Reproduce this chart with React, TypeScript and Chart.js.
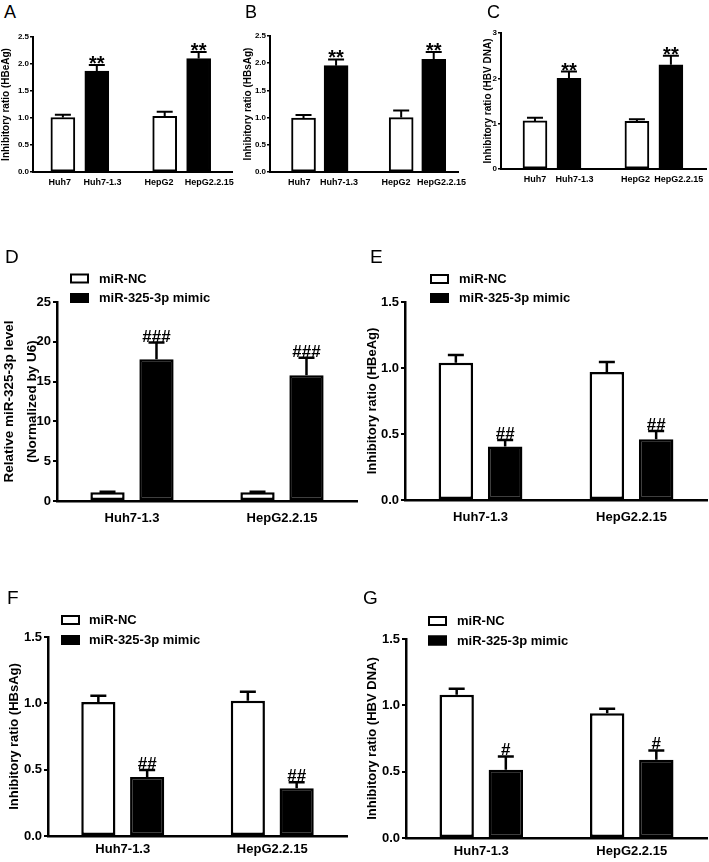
import React, { useEffect, useRef } from 'react';
import { Chart, registerables } from 'chart.js';

Chart.register(...registerables);

const FONT = "'Liberation Sans', Arial, Helvetica, sans-serif";

// ---------- Panels A–C data ----------
const cellLines = ['Huh7', 'Huh7-1.3', 'HepG2', 'HepG2.2.15'];
const hbeagRatio = [1.01, 1.87, 1.03, 2.1];
const hbeagRatioErr = [0.05, 0.11, 0.085, 0.12];
const hbsagRatio = [0.99, 1.955, 1.0, 2.07];
const hbsagRatioErr = [0.06, 0.115, 0.13, 0.135];
const hbvDnaRatio = [1.06, 2.0, 1.05, 2.3];
const hbvDnaRatioErr = [0.07, 0.15, 0.05, 0.2];
const cellLineMarks = ['', '**', '', '**'];

// ---------- Panels D–G data ----------
const hbvLines = ['Huh7-1.3', 'HepG2.2.15'];
const seriesNames = ['miR-NC', 'miR-325-3p mimic'];

const mirLevelNC = [1.1, 1.1];
const mirLevelNCErr = [0.06, 0.06];
const mirLevelMimic = [17.8, 15.8];
const mirLevelMimicErr = [2.1, 2.2];

const hbeagNC = [1.04, 0.97];
const hbeagNCErr = [0.058, 0.075];
const hbeagMimic = [0.405, 0.46];
const hbeagMimicErr = [0.05, 0.063];

const hbsagNC = [1.01, 1.02];
const hbsagNCErr = [0.048, 0.068];
const hbsagMimic = [0.445, 0.36];
const hbsagMimicErr = [0.053, 0.045];

const hbvNC = [1.08, 0.94];
const hbvNCErr = [0.045, 0.035];
const hbvMimic = [0.515, 0.59];
const hbvMimicErr = [0.1, 0.07];

// ---------- plugins ----------
const errorBarPlugin = {
  id: 'errorBars',
  afterDatasetsDraw(chart: any, _args: any, opts: any) {
    const ctx = chart.ctx;
    const yScale = chart.scales.y;
    chart.data.datasets.forEach((ds: any, di: number) => {
      const meta = chart.getDatasetMeta(di);
      const errs: number[] = ds.errors || [];
      const marks: string[] = ds.marks || [];
      meta.data.forEach((bar: any, i: number) => {
        const raw = ds.data[i];
        const val = typeof raw === 'number' ? raw : raw.y;
        const capY = yScale.getPixelForValue(val + (errs[i] || 0));
        ctx.save();
        ctx.strokeStyle = '#000';
        ctx.lineWidth = opts.lineWidth;
        ctx.beginPath();
        ctx.moveTo(bar.x, bar.y);
        ctx.lineTo(bar.x, capY);
        ctx.moveTo(bar.x - opts.capWidth / 2, capY);
        ctx.lineTo(bar.x + opts.capWidth / 2, capY);
        ctx.stroke();
        if (marks[i]) {
          ctx.fillStyle = '#000';
          ctx.font = `bold ${opts.markSize}px ${FONT}`;
          ctx.textAlign = 'center';
          ctx.textBaseline = 'alphabetic';
          ctx.fillText(marks[i], bar.x, capY + opts.markOffset);
        }
        ctx.restore();
      });
    });
  },
};

const boxLegendPlugin = {
  id: 'boxLegend',
  afterDraw(chart: any, _args: any, opts: any) {
    if (!opts || !opts.show) return;
    const ctx = chart.ctx;
    chart.data.datasets.forEach((ds: any, i: number) => {
      const cy = opts.y + i * opts.rowGap;
      ctx.save();
      ctx.fillStyle = ds.backgroundColor;
      ctx.fillRect(opts.x, cy - 5, 19, 10);
      ctx.strokeStyle = '#000';
      ctx.lineWidth = 2;
      ctx.strokeRect(opts.x + 1, cy - 4, 17, 8);
      ctx.fillStyle = '#000';
      ctx.font = `bold 13px ${FONT}`;
      ctx.textAlign = 'left';
      ctx.textBaseline = 'middle';
      ctx.fillText(ds.label, opts.textX, cy + 0.5);
      ctx.restore();
    });
  },
};

type Box = { left: number; top: number; width: number; height: number };
type Area = { l: number; t: number; r: number; b: number };

function frame(canvas: Box, area: Area) {
  return {
    padding: {
      left: 0,
      top: area.t - canvas.top,
      right: canvas.left + canvas.width - area.r,
      bottom: 0,
    },
    yWidth: area.l - canvas.left,
    xHeight: canvas.top + canvas.height - area.b,
  };
}

// ---------- top panels ----------
const topPositions = cellLines.map((_, i) => i + Math.floor(i / 2));

type TopPanel = {
  canvas: Box;
  area: Area;
  xRange: [number, number];
  labelShift: number[];
  values: number[];
  errors: number[];
  title: string;
  yMax: number;
  yStep: number;
  decimals: number;
  titlePad: number;
};

function topConfig(p: TopPanel): any {
  const f = frame(p.canvas, p.area);
  return {
    type: 'bar',
    data: {
      datasets: [
        {
          label: 'ratio',
          data: p.values.map((v, i) => ({ x: topPositions[i], y: v })),
          errors: p.errors,
          marks: cellLineMarks,
          backgroundColor: cellLines.map((_, i) => (i % 2 ? '#000' : '#fff')),
          borderColor: '#000',
          borderWidth: 2,
          borderSkipped: false,
          barThickness: 24,
          grouped: false,
        },
      ],
    },
    options: {
      responsive: false,
      animation: false,
      devicePixelRatio: 1,
      layout: { padding: f.padding },
      plugins: {
        legend: { display: false },
        tooltip: { enabled: false },
        errorBars: { lineWidth: 2, capWidth: 16, markSize: 20, markOffset: 5 },
        boxLegend: { show: false },
      },
      scales: {
        x: {
          type: 'linear',
          min: p.xRange[0],
          max: p.xRange[1],
          offset: false,
          afterBuildTicks: (s: any) => {
            s.ticks = topPositions.map((v, i) => ({ value: v + p.labelShift[i] }));
          },
          afterFit: (s: any) => {
            s.height = f.xHeight;
          },
          grid: { display: false, drawTicks: false },
          border: { display: true, color: '#000', width: 2 },
          ticks: {
            autoSkip: false,
            maxRotation: 0,
            padding: 5.5,
            color: '#000',
            font: { size: 9, weight: 'bold', family: FONT },
            callback: (_v: number, idx: number) => cellLines[idx] ?? '',
          },
        },
        y: {
          min: 0,
          max: p.yMax,
          afterFit: (s: any) => {
            s.width = f.yWidth;
          },
          grid: { display: true, drawOnChartArea: false, drawTicks: true, tickLength: 3, color: '#000', lineWidth: 1.5 },
          border: { display: true, color: '#000', width: 2 },
          ticks: {
            stepSize: p.yStep,
            padding: 1,
            color: '#000',
            font: { size: 8, weight: 'bold', family: FONT },
            callback: (v: number) => v.toFixed(p.decimals),
          },
          title: {
            display: true,
            text: p.title,
            color: '#000',
            font: { size: 10, weight: 'bold', family: FONT, lineHeight: 1.2 },
            padding: { top: p.titlePad, bottom: 0 },
          },
        },
      },
    },
    plugins: [errorBarPlugin, boxLegendPlugin],
  };
}

// ---------- bottom panels ----------
type BottomPanel = {
  canvas: Box;
  area: Area;
  nc: number[];
  ncErr: number[];
  mimic: number[];
  mimicErr: number[];
  mark: string;
  title: string | string[];
  titleSize: number;
  titleLineHeight: number;
  titlePad: number;
  yMax: number;
  yStep: number;
  decimals: number;
  xPad: number;
  legend: { x: number; textX: number; y: number; rowGap: number };
};

function bottomConfig(p: BottomPanel): any {
  const f = frame(p.canvas, p.area);
  const common = {
    borderColor: '#000',
    borderWidth: 2.5,
    borderSkipped: false,
    categoryPercentage: 0.653,
    barPercentage: 0.7,
  };
  return {
    type: 'bar',
    data: {
      labels: hbvLines,
      datasets: [
        { ...common, label: seriesNames[0], data: p.nc, errors: p.ncErr, marks: [], backgroundColor: '#fff' },
        { ...common, label: seriesNames[1], data: p.mimic, errors: p.mimicErr, marks: hbvLines.map(() => p.mark), backgroundColor: '#000' },
      ],
    },
    options: {
      responsive: false,
      animation: false,
      devicePixelRatio: 1,
      layout: { padding: f.padding },
      plugins: {
        legend: { display: false },
        tooltip: { enabled: false },
        errorBars: { lineWidth: 2.5, capWidth: 16, markSize: 17, markOffset: -1 },
        boxLegend: {
          show: true,
          x: p.legend.x - p.canvas.left,
          textX: p.legend.textX - p.canvas.left,
          y: p.legend.y - p.canvas.top,
          rowGap: p.legend.rowGap,
        },
      },
      scales: {
        x: {
          type: 'category',
          offset: true,
          afterFit: (s: any) => {
            s.height = f.xHeight;
          },
          grid: { display: false, drawTicks: false },
          border: { display: true, color: '#000', width: 2.5 },
          ticks: {
            padding: p.xPad,
            color: '#000',
            font: { size: 13, weight: 'bold', family: FONT },
          },
        },
        y: {
          min: 0,
          max: p.yMax,
          afterFit: (s: any) => {
            s.width = f.yWidth;
          },
          grid: { display: true, drawOnChartArea: false, drawTicks: true, tickLength: 4, color: '#000', lineWidth: 2 },
          border: { display: true, color: '#000', width: 2.5 },
          ticks: {
            stepSize: p.yStep,
            padding: 2,
            color: '#000',
            font: { size: 13, weight: 'bold', family: FONT },
            callback: (v: number) => v.toFixed(p.decimals),
          },
          title: {
            display: true,
            text: p.title,
            color: '#000',
            font: { size: p.titleSize, weight: 'bold', family: FONT, lineHeight: p.titleLineHeight },
            padding: { top: p.titlePad, bottom: 0 },
          },
        },
      },
    },
    plugins: [errorBarPlugin, boxLegendPlugin],
  };
}

const panelA: TopPanel = {
  canvas: { left: 0, top: 25, width: 240, height: 175 },
  area: { l: 33, t: 37, r: 233, b: 172 },
  xRange: [-0.88, 5.0],
  labelShift: [-0.09, 0.17, -0.17, 0.31],
  values: hbeagRatio,
  errors: hbeagRatioErr,
  title: 'Inhibitory ratio (HBeAg)',
  yMax: 2.5,
  yStep: 0.5,
  decimals: 1,
  titlePad: 0,
};
const panelB: TopPanel = {
  canvas: { left: 236, top: 25, width: 236, height: 175 },
  area: { l: 270, t: 36, r: 467, b: 172 },
  xRange: [-1.03, 4.76],
  labelShift: [-0.13, 0.09, -0.16, 0.24],
  values: hbsagRatio,
  errors: hbsagRatioErr,
  title: 'Inhibitory ratio (HBsAg)',
  yMax: 2.5,
  yStep: 0.5,
  decimals: 1,
  titlePad: 6,
};
const panelC: TopPanel = {
  canvas: { left: 474, top: 25, width: 235, height: 175 },
  area: { l: 501, t: 33, r: 707, b: 169 },
  xRange: [-1.0, 5.06],
  labelShift: [0.0, 0.16, -0.04, 0.23],
  values: hbvDnaRatio,
  errors: hbvDnaRatioErr,
  title: 'Inhibitory ratio (HBV DNA)',
  yMax: 3,
  yStep: 1,
  decimals: 0,
  titlePad: 8,
};

const panelD: BottomPanel = {
  canvas: { left: 0, top: 240, width: 360, height: 300 },
  area: { l: 57, t: 302, r: 357, b: 501 },
  nc: mirLevelNC,
  ncErr: mirLevelNCErr,
  mimic: mirLevelMimic,
  mimicErr: mirLevelMimicErr,
  mark: '###',
  title: ['Relative miR-325-3p level', '(Normalized by U6)'],
  titleSize: 13.5,
  titleLineHeight: 1.7,
  titlePad: -2.5,
  yMax: 25,
  yStep: 5,
  decimals: 0,
  xPad: 10,
  legend: { x: 70, textX: 99, y: 278.5, rowGap: 19.5 },
};
const panelE: BottomPanel = {
  canvas: { left: 362, top: 240, width: 347, height: 300 },
  area: { l: 405, t: 302, r: 707, b: 500 },
  nc: hbeagNC,
  ncErr: hbeagNCErr,
  mimic: hbeagMimic,
  mimicErr: hbeagMimicErr,
  mark: '##',
  title: 'Inhibitory ratio (HBeAg)',
  titleSize: 13,
  titleLineHeight: 1.2,
  titlePad: 2.7,
  yMax: 1.5,
  yStep: 0.5,
  decimals: 1,
  xPad: 10,
  legend: { x: 430, textX: 459, y: 279, rowGap: 19 },
};
const panelF: BottomPanel = {
  canvas: { left: 0, top: 580, width: 360, height: 282 },
  area: { l: 48, t: 637, r: 347, b: 836 },
  nc: hbsagNC,
  ncErr: hbsagNCErr,
  mimic: hbsagMimic,
  mimicErr: hbsagMimicErr,
  mark: '##',
  title: 'Inhibitory ratio (HBsAg)',
  titleSize: 13,
  titleLineHeight: 1.2,
  titlePad: 6.2,
  yMax: 1.5,
  yStep: 0.5,
  decimals: 1,
  xPad: 6,
  legend: { x: 61, textX: 89, y: 620, rowGap: 20 },
};
const panelG: BottomPanel = {
  canvas: { left: 362, top: 580, width: 347, height: 282 },
  area: { l: 406, t: 639, r: 707, b: 838 },
  nc: hbvNC,
  ncErr: hbvNCErr,
  mimic: hbvMimic,
  mimicErr: hbvMimicErr,
  mark: '#',
  title: 'Inhibitory ratio (HBV DNA)',
  titleSize: 13,
  titleLineHeight: 1.2,
  titlePad: 2.7,
  yMax: 1.5,
  yStep: 0.5,
  decimals: 1,
  xPad: 6,
  legend: { x: 428, textX: 457, y: 621, rowGap: 19.5 },
};

function ChartCanvas({ box, make }: { box: Box; make: () => any }) {
  const ref = useRef<HTMLCanvasElement>(null);
  useEffect(() => {
    const chart = new Chart(ref.current as HTMLCanvasElement, make());
    return () => chart.destroy();
  }, []);
  return (
    <canvas
      ref={ref}
      width={box.width}
      height={box.height}
      style={{ position: 'absolute', left: box.left, top: box.top, width: box.width, height: box.height }}
    />
  );
}

const letters = [
  { t: 'A', left: 4, top: 2.7, size: 18 },
  { t: 'B', left: 245, top: 2.7, size: 18 },
  { t: 'C', left: 487, top: 2.7, size: 18 },
  { t: 'D', left: 5, top: 246.5, size: 19 },
  { t: 'E', left: 370, top: 246.5, size: 19 },
  { t: 'F', left: 7, top: 587.5, size: 19 },
  { t: 'G', left: 363, top: 587.5, size: 19 },
];

export default function App() {
  return (
    <div
      style={{
        position: 'absolute',
        left: 0,
        top: 0,
        width: 709,
        height: 862,
        background: '#fff',
        overflow: 'hidden',
      }}
    >
      <ChartCanvas box={panelA.canvas} make={() => topConfig(panelA)} />
      <ChartCanvas box={panelB.canvas} make={() => topConfig(panelB)} />
      <ChartCanvas box={panelC.canvas} make={() => topConfig(panelC)} />
      <ChartCanvas box={panelD.canvas} make={() => bottomConfig(panelD)} />
      <ChartCanvas box={panelE.canvas} make={() => bottomConfig(panelE)} />
      <ChartCanvas box={panelF.canvas} make={() => bottomConfig(panelF)} />
      <ChartCanvas box={panelG.canvas} make={() => bottomConfig(panelG)} />
      {letters.map((l) => (
        <div
          key={l.t}
          style={{
            position: 'absolute',
            left: l.left,
            top: l.top,
            fontFamily: FONT,
            fontSize: l.size,
            lineHeight: `${l.size}px`,
            color: '#000',
          }}
        >
          {l.t}
        </div>
      ))}
    </div>
  );
}
